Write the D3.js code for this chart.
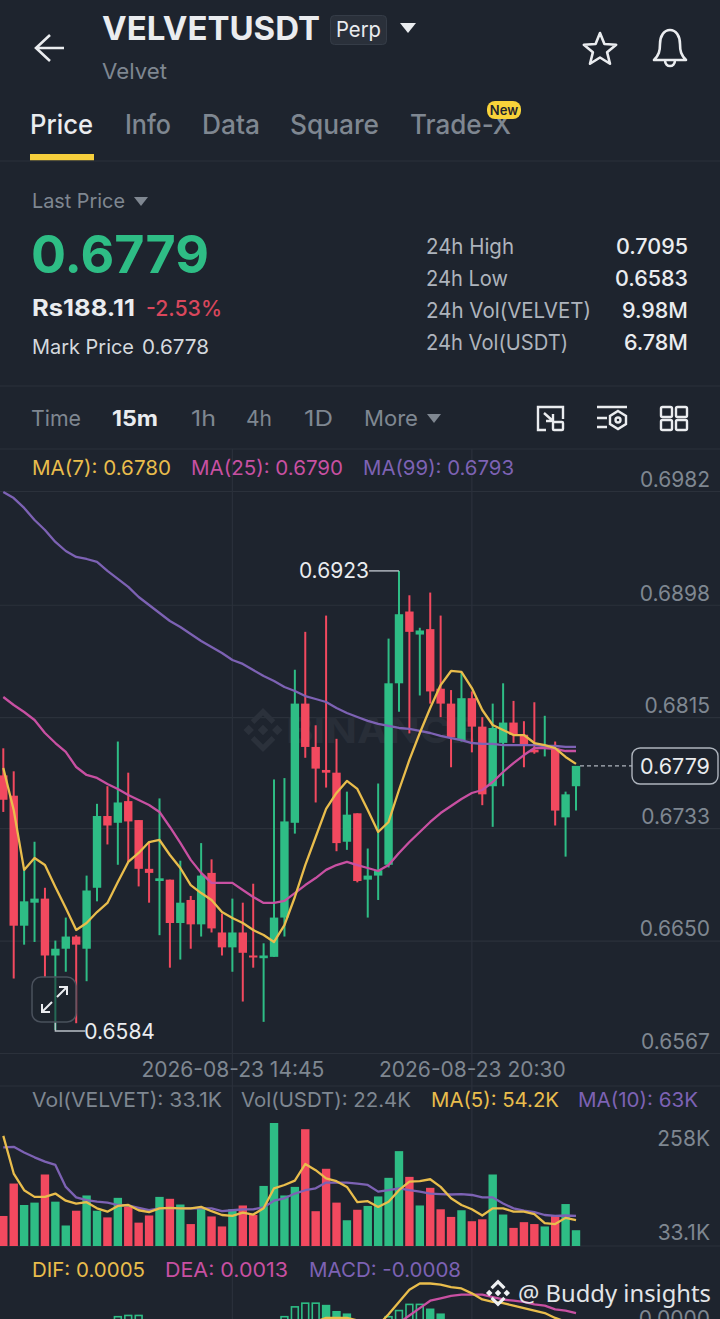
<!DOCTYPE html>
<html lang="en">
<head>
<meta charset="UTF-8">
<title>VELVETUSDT Perp</title>
<script src="https://d3js.org/d3.v7.min.js"></script>
<style>
  html, body { margin: 0; background: #1e242e; overflow: hidden; }
  svg { display: block; }
  text { font-family: Inter, "Noto Sans", sans-serif; }
</style>
</head>
<body>
<svg id="chart" width="720" height="1319"></svg>
<script>
// candles, 15m
const opens = [.6772,.6757,.6661,.6678,.6681,.6639,.6644,.6653,.6644,.6689,.6742,.6737,.6753,.6739,.6703,.6694,.6695,.6663,.6680,.6662,.6700,.6656,.6645,.6656,.6639,.6637,.6638,.6667,.6737,.6825,.6793,.6776,.6774,.6723,.6744,.6695,.6698,.6706,.6840,.6893,.6876,.6880,.6836,.6825,.6798,.6829,.6808,.6764,.6796,.6811,.6802,.6791,.6792,.6792,.6741,.6764];
const closes = [.6754,.6661,.6679,.6681,.6639,.6644,.6653,.6647,.6687,.6742,.6735,.6752,.6738,.6703,.6700,.6696,.6663,.6678,.6662,.6698,.6659,.6645,.6656,.6641,.6638,.6639,.6667,.6738,.6825,.6793,.6777,.6774,.6722,.6743,.6694,.6698,.6702,.6840,.6891,.6878,.6879,.6834,.6825,.6800,.6829,.6808,.6758,.6807,.6811,.6802,.6794,.6789,.6793,.6746,.6758,.6779];
const highs = [.6792,.6775,.6702,.6723,.6689,.6650,.6667,.6654,.6698,.6751,.6764,.6797,.6774,.6739,.6723,.6755,.6695,.6709,.6683,.6722,.6710,.6670,.6681,.6678,.6692,.6648,.6769,.6770,.6850,.6878,.6809,.6890,.6799,.6760,.6744,.6718,.6766,.6873,.6923,.6905,.6881,.6907,.6890,.6835,.6848,.6834,.6815,.6825,.6840,.6827,.6812,.6826,.6816,.6797,.6760,.6779];
const lows = [.6745,.6622,.6647,.6649,.6623,.6584,.6627,.6589,.6620,.6679,.6721,.6706,.6708,.6690,.6678,.6654,.6630,.6636,.6644,.6653,.6656,.6639,.6627,.6605,.6630,.6590,.6638,.6653,.6729,.6785,.6752,.6763,.6716,.6717,.6693,.6667,.6680,.6704,.6819,.6803,.6831,.6825,.6815,.6778,.6797,.6789,.6750,.6734,.6764,.6796,.6778,.6788,.6786,.6735,.6712,.6746];

const ma7 = [.67775,.67464,.67022,.67110,.67058,.66896,.66741,.66578,.66630,.66711,.66778,.66933,.67081,.67147,.67228,.67243,.67132,.67036,.66910,.66851,.66800,.66711,.66667,.66630,.66578,.66541,.66490,.66615,.66822,.67058,.67265,.67472,.67590,.67679,.67620,.67464,.67302,.67376,.67612,.67834,.68033,.68218,.68387,.68491,.68484,.68365,.68203,.68092,.68055,.68018,.68018,.67959,.67944,.67922,.67856,.67805];
const ma25 = [.68299,.68240,.68188,.68129,.68033,.67959,.67893,.67782,.67723,.67701,.67657,.67620,.67575,.67538,.67501,.67450,.67339,.67221,.67096,.67000,.66926,.66926,.66926,.66874,.66822,.66778,.66778,.66793,.66851,.66910,.66962,.67022,.67058,.67081,.67058,.67036,.67014,.67058,.67147,.67228,.67302,.67376,.67442,.67494,.67546,.67590,.67612,.67671,.67745,.67811,.67870,.67922,.67922,.67915,.67900,.67900];
const ma99 = [.69813,.69768,.69695,.69606,.69532,.69444,.69377,.69333,.69318,.69296,.69230,.69171,.69112,.69037,.68978,.68919,.68860,.68816,.68764,.68712,.68668,.68624,.68572,.68543,.68498,.68454,.68417,.68373,.68343,.68306,.68284,.68262,.68218,.68181,.68151,.68122,.68100,.68085,.68070,.68063,.68048,.68033,.68011,.67996,.67981,.67959,.67952,.67952,.67944,.67944,.67944,.67944,.67937,.67937,.67930,.67930];

// volume in thousands
const volumes = [63,131,86,91,150,93,43,74,106,74,60,101,82,49,64,103,99,87,46,78,62,41,77,85,65,126,258,106,124,245,73,162,91,54,76,84,104,143,199,145,85,122,77,61,75,52,56,150,66,38,50,46,41,64,88,33.1];
const volMa5 = [231,152,117,103,103,110,95,89,92,79,72,84,86,75,71,79,80,79,79,82,73,65,63,70,66,79,121,128,137,172,159,142,136,124,92,94,82,93,117,135,136,140,124,100,86,77,64,79,79,72,72,67,48,46,59,54.2];
const volMa10 = [207,208,196,186,177,170,124,102,96,93,91,86,85,80,75,79,80,79,79,79,79,73,75,77,77,81,95,100,110,117,121,133,133,133,131,128,114,117,121,117,114,110,109,108,109,107,102,102,89,79,74,71,65,63,64,63];

// macd panel is cut off by the bottom of the screenshot, null = can't be seen
const n = null;
const macdHist = [n,n,n,n,n,n,n,n,n,n,n,.0010,.0011,.0011,n,n,n,n,n,n,n,n,n,n,n,n,n,.0010,.0018,.0021,.0021,.0019,.0014,.0012,n,n,n,.0010,.0015,.0020,.0020,.0016,.0012,n,n,n,n,n,n,n,n,n,n,n,n,n];
const dif = [n,n,n,n,n,n,n,n,n,n,n,n,n,n,n,n,n,n,n,n,n,n,n,n,n,n,n,n,n,n,.0006,.0009,.0009,.0009,.0007,.0004,.0003,.0012,.0022,.0032,.0037,.0037,.0036,.0034,.0033,.0029,.0024,.0022,.0021,.0019,.0017,.0015,.0013,.0009,.0006,.0005];
const dea = [n,n,n,n,n,n,n,n,n,n,n,n,n,n,n,n,n,n,n,n,n,n,n,n,n,n,n,n,n,n,n,n,n,n,n,n,n,n,.0005,.0011,.0017,.0023,.0025,.0027,.0028,.0028,.0028,.0026,.0024,.0023,.0022,.0020,.0019,.0016,.0015,.0013];

const priceTicks = [.6982,.6898,.6815,.6733,.6650,.6567];
const timeTickIdx = [22,45];
const timeTickLabels = ["2026-08-23 14:45","2026-08-23 20:30"];
const statLabels = ["24h High","24h Low","24h Vol(VELVET)","24h Vol(USDT)"];
const statValues = ["0.7095","0.6583","9.98M","6.78M"];

const GREEN = "#2ebd85", RED = "#f2495f", YEL = "#e9bd4c", PINK = "#c850a2", PUR = "#7d62b4";
const GRAY = "#7f8791", GRID = "#2b313b";
const W = 720;

const svg = d3.select("#chart");

// small helper, y is the text's vertical centre. len forces the width seen in the picture
function label(str, x, y, size, fill, opts = {}) {
  const t = svg.append("text")
    .attr("x", x).attr("y", y).attr("dy", ".36em")
    .attr("font-size", size).attr("fill", fill)
    .attr("font-weight", opts.weight || 400)
    .attr("text-anchor", opts.anchor || "start")
    .text(str);
  if (opts.len) t.attr("textLength", opts.len).attr("lengthAdjust", "spacingAndGlyphs");
  if (opts.family) t.style("font-family", opts.family);
  return t;
}
function tri(x, y, w, h, fill) {
  svg.append("path").attr("d", `M${x},${y}h${w}l${-w / 2},${h}z`).attr("fill", fill);
}
function hline(y, x1 = 0, x2 = W) {
  svg.append("line").attr("x1", x1).attr("x2", x2).attr("y1", y).attr("y2", y).attr("stroke", GRID).attr("stroke-width", 1.2);
}
function logo(cx, cy, s, fill) {
  const g = svg.append("g").attr("transform", `translate(${cx},${cy}) scale(${s})`).attr("fill", fill);
  const d = (x, y, r) => `M${x},${y - r}L${x + r},${y}L${x},${y + r}L${x - r},${y}Z`;
  g.append("path").attr("d", d(0, 0, 2.4) + d(-6.5, 0, 2.4) + d(6.5, 0, 2.4));
  g.append("path").attr("d", "M0,-10L5.6,-4.4L3.9,-2.7L0,-6.6L-3.9,-2.7L-5.6,-4.4Z");
  g.append("path").attr("d", "M0,10L5.6,4.4L3.9,2.7L0,6.6L-3.9,2.7L-5.6,4.4Z");
}

// ---- header ----
svg.append("path").attr("d", "M64,48H36M50,35L36,48L50,61").attr("fill", "none").attr("stroke", "#eaecef").attr("stroke-width", 2.6);
label("VELVETUSDT", 102, 28, 32, "#eaecef", { weight: 700, len: 218 });
svg.append("rect").attr("x", 330.5).attr("y", 15.5).attr("width", 56).attr("height", 29).attr("rx", 4).attr("fill", "#2a303a").attr("stroke", "#353c47");
label("Perp", 336, 29, 21, "#eaecef", { len: 45 });
tri(400, 23, 16, 10, "#eaecef");
label("Velvet", 102, 71, 22, GRAY, { len: 65 });

const star = d3.range(10).map(i => {
  const r = i % 2 ? 7.5 : 17, a = -Math.PI / 2 + i * Math.PI / 5;
  return [600 + r * Math.cos(a), 50 + r * Math.sin(a)];
});
svg.append("path").attr("d", d3.line()(star) + "Z").attr("fill", "none").attr("stroke", "#eaecef").attr("stroke-width", 2.6).attr("stroke-linejoin", "round");
svg.append("path").attr("d", "M654,60H686C681,55 680,51 680,44C680,36 676,30 670,30C664,30 660,36 660,44C660,51 659,55 654,60ZM665,60C665,68 675,68 675,60")
  .attr("fill", "none").attr("stroke", "#eaecef").attr("stroke-width", 2.6).attr("stroke-linejoin", "round");

// tabs
label("Price", 30, 124, 27, "#eaecef", { weight: 500, len: 63 });
label("Info", 125, 124, 27, GRAY, { weight: 500, len: 46 });
label("Data", 202, 124, 27, GRAY, { weight: 500, len: 58 });
label("Square", 290, 124, 27, GRAY, { weight: 500, len: 89 });
label("Trade-X", 410, 124, 27, GRAY, { weight: 500, len: 101 });
svg.append("rect").attr("x", 487).attr("y", 101).attr("width", 34).attr("height", 18).attr("rx", 8).attr("fill", "#f8d33a");
label("New", 504, 110, 13, "#1e242e", { weight: 600, anchor: "middle" });
svg.append("rect").attr("x", 30).attr("y", 154).attr("width", 64).attr("height", 6.5).attr("fill", "#f6cf3c");
hline(161);

// ---- price block ----
label("Last Price", 32, 201, 20, GRAY, { len: 93 });
tri(134, 197, 14, 9, GRAY);
label("0.6779", 31, 254, 52, GREEN, { weight: 700, len: 178 });
label("Rs188.11", 32, 308, 23, "#eaecef", { weight: 700, len: 103 });
label("-2.53%", 146, 308, 22, "#d9475c", { weight: 500, len: 76 });
label("Mark Price", 32, 347, 20, "#d5d9de", { len: 102 });
label("0.6778", 142, 347, 20, "#d5d9de", { len: 67 });

const statY = d3.scalePoint().domain(statLabels).range([246, 342]);
const statW = [88, 82, 165, 142];
statLabels.forEach((s, i) => {
  label(s, 426, statY(s), 21, "#aeb4bd", { len: statW[i] });
  label(statValues[i], 688, statY(s), 21.5, "#eaecef", { anchor: "end", weight: 500 });
});
hline(386);

// ---- toolbar ----
label("Time", 31, 418, 22, GRAY, { len: 50 });
label("15m", 112, 418, 22, "#eaecef", { weight: 700, len: 46 });
label("1h", 191, 418, 22, GRAY, { len: 25 });
label("4h", 246, 418, 22, GRAY, { len: 26 });
label("1D", 304, 418, 22, GRAY, { len: 29 });
label("More", 364, 418, 22, GRAY, { len: 54 });
tri(427, 414, 14, 9, GRAY);
const ic = svg.append("g").attr("fill", "none").attr("stroke", "#eaecef").attr("stroke-width", 2.4);
ic.append("path").attr("d", "M546,430H538V407H563V419M544,413L553,421M553,414V421H546");
ic.append("rect").attr("x", 553).attr("y", 422).attr("width", 10).attr("height", 8).attr("rx", 1);
ic.append("path").attr("d", "M597,407H627M597,418H607M597,427H607");
ic.append("path").attr("d", "M618,411L626,416V424L618,429L610,424V416Z");
ic.append("circle").attr("cx", 618).attr("cy", 420).attr("r", 2.5);
[[661, 407], [676, 407], [661, 420], [676, 420]].forEach(([x, y]) =>
  ic.append("rect").attr("x", x).attr("y", y).attr("width", 11).attr("height", 10).attr("rx", 1.5));
hline(449);

// ---- scales ----
const x = d3.scaleLinear().domain([0, 55]).range([3.3, 576]);
const y = d3.scaleLinear().domain([.6982, .6567]).range([491, 1053]);
const yVol = d3.scaleLinear().domain([0, 258]).range([1246, 1123]);
const yMacd = d3.scaleLinear().domain([0, .0037]).range([1329, 1283.5]);
const bodyW = 8.4;

// ---- grid + axes ----
const gridG = svg.append("g");
gridG.append("g")
  .attr("transform", "translate(0,0)")
  .call(d3.axisRight(y).tickValues(priceTicks).tickSize(W).tickFormat(d3.format(".4f")))
  .call(g => g.select(".domain").remove())
  .call(g => g.selectAll("line").attr("stroke", GRID).attr("stroke-width", 1.2))
  .call(g => g.selectAll("text").attr("x", 710).attr("dy", "-.22em").attr("text-anchor", "end")
    .attr("fill", GRAY).attr("font-size", 21).style("font-family", "Inter"));

gridG.selectAll(".vgrid").data(timeTickIdx).join("line")
  .attr("x1", d => x(d)).attr("x2", d => x(d)).attr("y1", 449).attr("y2", 1319)
  .attr("stroke", GRID).attr("stroke-width", 1.2);

svg.append("g")
  .attr("transform", "translate(0,1053)")
  .call(d3.axisBottom(x).tickValues(timeTickIdx).tickSize(0).tickPadding(9).tickFormat((d, i) => timeTickLabels[i]))
  .call(g => g.select(".domain").remove())
  .call(g => g.selectAll("text").attr("fill", GRAY).attr("font-size", 21).style("font-family", "Inter"));
hline(1086);
hline(1246);

// watermark
logo(263, 730, 2.2, "#2b313b");
label("BINANCE", 286, 730, 36, "#282e38", { weight: 700, len: 190 });

// ---- legend ----
label("MA(7): 0.6780", 32, 468, 20, YEL, { len: 139 });
label("MA(25): 0.6790", 191, 468, 20, PINK, { len: 152 });
label("MA(99): 0.6793", 363, 468, 20, PUR, { len: 151 });

// ---- candles ----
const idx = d3.range(opens.length);
const color = i => closes[i] >= opens[i] ? GREEN : RED;
const candles = svg.append("g");
candles.selectAll("line").data(idx).join("line")
  .attr("x1", x).attr("x2", x)
  .attr("y1", i => y(highs[i])).attr("y2", i => y(lows[i]))
  .attr("stroke", color).attr("stroke-width", 2);
candles.selectAll("rect").data(idx).join("rect")
  .attr("x", i => x(i) - bodyW / 2).attr("width", bodyW)
  .attr("y", i => y(Math.max(opens[i], closes[i])))
  .attr("height", i => Math.max(2, Math.abs(y(opens[i]) - y(closes[i]))))
  .attr("fill", color);

function drawLine(vals, scale, stroke, w = 2.3) {
  svg.append("path").datum(idx)
    .attr("d", d3.line().defined(i => vals[i] !== null).x(x).y(i => scale(vals[i])))
    .attr("fill", "none").attr("stroke", stroke).attr("stroke-width", w).attr("stroke-linejoin", "round");
}
drawLine(ma99, y, PUR);
drawLine(ma25, y, PINK);
drawLine(ma7, y, YEL);

// high / low markers
const hiI = d3.greatestIndex(highs), loI = d3.leastIndex(lows);
svg.append("path").attr("d", `M${x(hiI)},${y(highs[hiI])}V${y(highs[hiI])}H${x(hiI) - 30}`).attr("fill", "none").attr("stroke", "#b9c0c8").attr("stroke-width", 1.4);
label(d3.format(".4f")(highs[hiI]), x(hiI) - 30, y(highs[hiI]), 21, "#eaecef", { anchor: "end" });
svg.append("path").attr("d", `M${x(loI)},${y(lows[loI]) - 8}V${y(lows[loI]) + 1}H${x(loI) + 30}`).attr("fill", "none").attr("stroke", "#b9c0c8").attr("stroke-width", 1.4);
label(d3.format(".4f")(lows[loI]), x(loI) + 29, y(lows[loI]) + 1, 21, "#eaecef");

// expand button
svg.append("rect").attr("x", 32).attr("y", 977).attr("width", 44).attr("height", 45).attr("rx", 9)
  .attr("fill", "#1e242e").attr("fill-opacity", .55).attr("stroke", "#4a515c").attr("stroke-width", 1.5);
svg.append("path").attr("d", "M42,1012L52,1002M42,1004V1012H50M67,987L57,997M59,987H67V995")
  .attr("fill", "none").attr("stroke", "#eaecef").attr("stroke-width", 2);

// last price tag
const last = closes[closes.length - 1];
svg.append("line").attr("x1", x(55) + 4).attr("x2", 632).attr("y1", y(last)).attr("y2", y(last))
  .attr("stroke", "#aeb4bd").attr("stroke-width", 1.4).attr("stroke-dasharray", "4 3");
svg.append("rect").attr("x", 632).attr("y", 748).attr("width", 86).attr("height", 36).attr("rx", 8)
  .attr("fill", "#1e242e").attr("stroke", "#aeb4bd").attr("stroke-width", 1.4);
label(d3.format(".4f")(last), 675, 766, 21.5, "#eaecef", { anchor: "middle" });

// ---- volume ----
label("Vol(VELVET): 33.1K", 32, 1100, 20, GRAY, { len: 190 });
label("Vol(USDT): 22.4K", 241, 1100, 20, GRAY, { len: 170 });
label("MA(5): 54.2K", 431, 1100, 20, YEL, { len: 128 });
label("MA(10): 63K", 578, 1100, 20, PUR, { len: 120 });
label("258K", 710, 1138, 21, GRAY, { anchor: "end" });
label("33.1K", 710, 1232, 21, GRAY, { anchor: "end" });

svg.append("g").selectAll("rect").data(idx).join("rect")
  .attr("x", i => x(i) - bodyW / 2).attr("width", bodyW)
  .attr("y", i => yVol(volumes[i])).attr("height", i => yVol(0) - yVol(volumes[i]))
  .attr("fill", color);
drawLine(volMa10, yVol, PUR);
drawLine(volMa5, yVol, YEL);

// ---- macd ----
label("DIF: 0.0005", 32, 1270, 20, YEL, { len: 113 });
label("DEA: 0.0013", 165, 1270, 20, PINK, { len: 123 });
label("MACD: -0.0008", 309, 1270, 20, PUR, { len: 152 });
label("0.0000", 710, 1318, 21, GRAY, { anchor: "end" });

const histIdx = idx.filter(i => macdHist[i] !== null);
const rising = i => macdHist[i - 1] === null || macdHist[i] >= macdHist[i - 1];
svg.append("g").selectAll("rect").data(histIdx).join("rect")
  .attr("x", i => x(i) - bodyW / 2 + .8).attr("width", bodyW - 1.6)
  .attr("y", i => yMacd(macdHist[i])).attr("height", i => yMacd(0) - yMacd(macdHist[i]))
  .attr("fill", i => rising(i) ? "none" : GREEN)
  .attr("stroke", GREEN).attr("stroke-width", 1.6);
drawLine(dea, yMacd, PINK);
drawLine(dif, yMacd, YEL);

// watermark bottom right
logo(498, 1293, 1.35, "#eef0f2");
label("@ Buddy insights", 518, 1293, 24, "#e2e5e8", { family: "'Noto Sans'", len: 193 });
</script>
</body>
</html>
